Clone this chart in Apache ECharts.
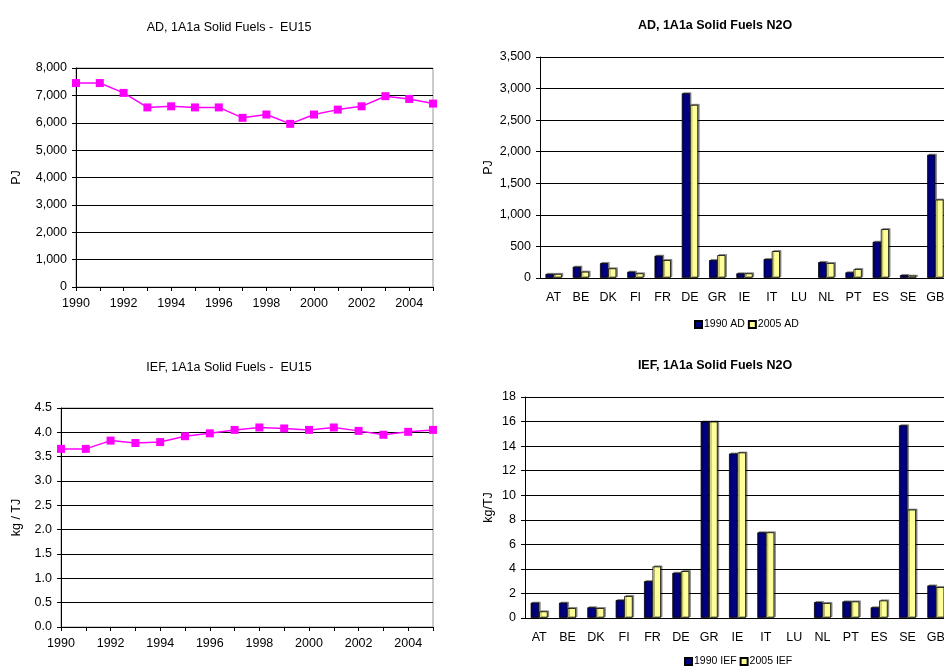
<!DOCTYPE html>
<html>
<head>
<meta charset="utf-8">
<script src="https://cdn.jsdelivr.net/npm/echarts@6/dist/echarts.min.js"></script>
<style>html,body{margin:0;padding:0;background:#fff;overflow:hidden;width:944px;height:667px}#c{width:956px;height:667px}</style>
</head>
<body>
<div id="c"></div>
<script>
const years = ['1990','1991','1992','1993','1994','1995','1996','1997','1998','1999','2000','2001','2002','2003','2004','2005'];
const adEU15 = [7450,7450,7090,6560,6600,6560,6560,6180,6300,5960,6300,6480,6600,6970,6870,6700];
const iefEU15 = [3.66,3.66,3.83,3.78,3.80,3.92,3.98,4.05,4.10,4.08,4.05,4.10,4.03,3.95,4.01,4.05];
const countries = ['AT','BE','DK','FI','FR','DE','GR','IE','IT','LU','NL','PT','ES','SE','GB'];
const ad1990 = [65,179,237,100,353,2926,284,74,300,null,253,90,574,47,1953];
const ad2005 = [65,100,153,74,284,2742,363,74,426,null,237,142,774,37,1242];
const ief1990 = [1.25,1.25,0.87,1.46,3.0,3.68,16.0,13.4,6.98,null,1.30,1.35,0.87,15.7,2.65];
const ief2005 = [0.54,0.81,0.81,1.79,4.2,3.82,16.0,13.48,6.98,null,1.22,1.35,1.43,8.83,2.52];

const FONT = 'Liberation Sans';
const txt = {fontFamily: FONT, fontSize: 12.5, color: '#000'};
const chart = echarts.init(document.getElementById('c'));

function lineX(gi){
  return {type:'category', gridIndex:gi, data:years, boundaryGap:false,
    axisLine:{lineStyle:{color:'#000',width:1}},
    axisTick:{interval:0, length:4, lineStyle:{color:'#000'}},
    axisLabel:Object.assign({interval:1, margin:10}, txt),
    splitLine:{show:false}};
}
function barX(gi){
  return {type:'category', gridIndex:gi, data:countries,
    axisLine:{lineStyle:{color:'#000',width:1}},
    axisTick:{interval:0, length:5, lineStyle:{color:'#000'}},
    axisLabel:Object.assign({interval:0, margin:13}, txt),
    splitLine:{show:false}};
}
function yAx(gi, min, max, interval, name, gap, fmt){
  return {type:'value', gridIndex:gi, min:min, max:max, interval:interval,
    name:name, nameLocation:'middle', nameGap:gap, nameRotate:90,
    nameTextStyle:{fontFamily:FONT, fontSize:12.5, color:'#000'},
    axisLine:{show:true, lineStyle:{color:'#000',width:1}},
    axisTick:{show:true, length:4, lineStyle:{color:'#000'}},
    axisLabel:Object.assign({margin:9, formatter:fmt}, txt),
    splitLine:{show:true, lineStyle:{color:'#000',width:1}}};
}
const thousands = v => v.toLocaleString('en-US');
const oneDec = v => v.toFixed(1);
const plain = v => String(v);

const barStyle = (c) => ({color:c, borderColor:'#000', borderWidth:0.8,
  shadowColor:'rgba(0,0,0,0.4)', shadowOffsetX:1.5, shadowOffsetY:-1});

const titleStyle = (w) => ({fontFamily:FONT, fontSize:12.5, fontWeight:w, color:'#000'});
const legendText = {fontFamily:FONT, fontSize:10.5, color:'#000', padding:[0,0,0,-3]};

const option = {
  animation:false,
  backgroundColor:'#fff',
  title:[
    {text:'AD, 1A1a Solid Fuels -  EU15', left:224, top:16, textAlign:'center', textStyle:titleStyle('normal')},
    {text:'IEF, 1A1a Solid Fuels -  EU15', left:224, top:356, textAlign:'center', textStyle:titleStyle('normal')},
    {text:'AD, 1A1a Solid Fuels N2O', left:710, top:14, textAlign:'center', textStyle:titleStyle('bold')},
    {text:'IEF, 1A1a Solid Fuels N2O', left:710, top:354, textAlign:'center', textStyle:titleStyle('bold')}
  ],
  legend:[
    {data:['1990 AD','2005 AD'], left:694, top:319, padding:0, icon:'rect',
      itemWidth:7, itemHeight:7, itemGap:3, textStyle:legendText},
    {data:['1990 IEF','2005 IEF'], left:684, top:656, padding:0, icon:'rect',
      itemWidth:7, itemHeight:7, itemGap:3, textStyle:legendText}
  ],
  grid:[
    {left:76, top:68, width:357, height:219, show:true, borderColor:'#999', borderWidth:1},
    {left:61, top:408, width:372, height:219, show:true, borderColor:'#999', borderWidth:1},
    {left:540, top:57, width:409, height:221},
    {left:525, top:397, width:425, height:221}
  ],
  xAxis:[lineX(0), lineX(1), barX(2), barX(3)],
  yAxis:[
    yAx(0, 0, 8000, 1000, 'PJ', 53, thousands),
    yAx(1, 0, 4.5, 0.5, 'kg / TJ', 38, oneDec),
    yAx(2, 0, 3500, 500, 'PJ', 45, thousands),
    yAx(3, 0, 18, 2, 'kg/TJ', 30, plain)
  ],
  series:[
    {type:'line', name:'AD EU15', xAxisIndex:0, yAxisIndex:0, data:adEU15,
      symbol:'rect', symbolSize:8, lineStyle:{color:'#FF00FF', width:1.5},
      itemStyle:{color:'#FF00FF'}},
    {type:'line', name:'IEF EU15', xAxisIndex:1, yAxisIndex:1, data:iefEU15,
      symbol:'rect', symbolSize:8, lineStyle:{color:'#FF00FF', width:1.5},
      itemStyle:{color:'#FF00FF'}},
    {type:'bar', name:'1990 AD', xAxisIndex:2, yAxisIndex:2, data:ad1990,
      barGap:'0%', barCategoryGap:'40%', itemStyle:barStyle('#000080')},
    {type:'bar', name:'2005 AD', xAxisIndex:2, yAxisIndex:2, data:ad2005,
      barGap:'0%', barCategoryGap:'40%', itemStyle:barStyle('#FFFF99')},
    {type:'bar', name:'1990 IEF', xAxisIndex:3, yAxisIndex:3, data:ief1990,
      barGap:'0%', barCategoryGap:'40%', itemStyle:barStyle('#000080')},
    {type:'bar', name:'2005 IEF', xAxisIndex:3, yAxisIndex:3, data:ief2005,
      barGap:'0%', barCategoryGap:'40%', itemStyle:barStyle('#FFFF99')}
  ]
};
chart.setOption(option);
</script>
</body>
</html>
